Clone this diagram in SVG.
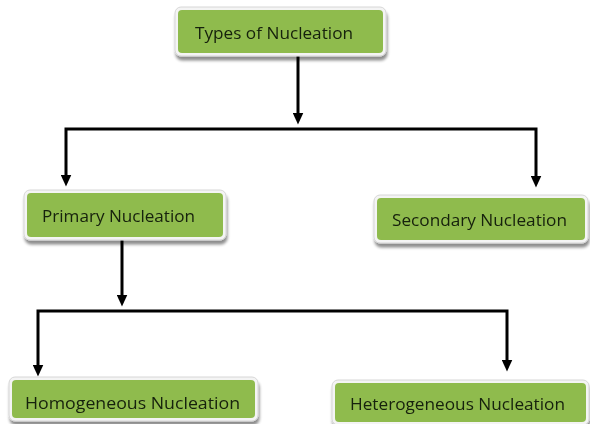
<svg xmlns="http://www.w3.org/2000/svg" width="590" height="424" viewBox="0 0 590 424">
  <defs>
    <filter id="shadow" x="-10%" y="-20%" width="120%" height="160%">
      <feGaussianBlur in="SourceAlpha" stdDeviation="1.8"/>
      <feOffset dx="1" dy="4" result="b"/>
      <feComponentTransfer><feFuncA type="linear" slope="0.45"/></feComponentTransfer>
      <feMerge><feMergeNode/><feMergeNode in="SourceGraphic"/></feMerge>
    </filter>
    <!-- arrowhead drawn along +x; its base sits on the line end, the tip 12px beyond -->
    <marker id="arrow" viewBox="0 0 12 11" refX="0.5" refY="5.5" markerWidth="12" markerHeight="11" markerUnits="userSpaceOnUse" orient="auto-start-reverse">
      <path d="M0,0 L12,5.5 L0,11 Z" fill="#000"/>
    </marker>
  </defs>
  <style>
    .frame { fill: #f4f4f4; stroke: #d6d6d6; stroke-width: 1; }
    .box { fill: #8fbb4e; }
    .label { font-family: "Open Sans", "Liberation Sans", sans-serif; font-size: 16.5px; fill: #16200c; dominant-baseline: central; }
    .link { fill: none; stroke: #000; stroke-width: 3; stroke-linejoin: miter; }
    .arrow-end { marker-end: url(#arrow); }
    .arrow-both { marker-start: url(#arrow); marker-end: url(#arrow); }
  </style>
  <rect width="590" height="424" fill="#fff"/>

  <g id="connectors">
    <path class="link arrow-end" d="M298,55 V113"/>
    <path class="link arrow-both" d="M66,175 V129 H536 V176"/>
    <path class="link arrow-end" d="M122,240 V295"/>
    <path class="link arrow-both" d="M38,365 V311 H507 V360"/>
  </g>

  <g id="types-of-nucleation" filter="url(#shadow)">
    <rect class="frame" x="175" y="7" width="211" height="49" rx="6"/>
    <rect class="box" x="178" y="10" width="205" height="43" rx="4"/>
    <text class="label" x="195" y="32" textLength="158" lengthAdjust="spacingAndGlyphs">Types of Nucleation</text>
  </g>

  <g id="primary-nucleation" filter="url(#shadow)">
    <rect class="frame" x="24" y="190" width="202" height="50" rx="6"/>
    <rect class="box" x="27" y="193" width="196" height="44" rx="4"/>
    <text class="label" x="42" y="215" textLength="153" lengthAdjust="spacingAndGlyphs">Primary Nucleation</text>
  </g>

  <g id="secondary-nucleation" filter="url(#shadow)">
    <rect class="frame" x="374" y="195" width="214" height="48" rx="6"/>
    <rect class="box" x="377" y="198" width="208" height="42" rx="4"/>
    <text class="label" x="392" y="219" textLength="175" lengthAdjust="spacingAndGlyphs">Secondary Nucleation</text>
  </g>

  <g id="homogeneous-nucleation" filter="url(#shadow)">
    <rect class="frame" x="9" y="377" width="249" height="44" rx="6"/>
    <rect class="box" x="12" y="380" width="243" height="38" rx="4"/>
    <text class="label" x="25" y="402" textLength="215" lengthAdjust="spacingAndGlyphs">Homogeneous Nucleation</text>
  </g>

  <g id="heterogeneous-nucleation" filter="url(#shadow)">
    <rect class="frame" x="332" y="380" width="257" height="45" rx="6"/>
    <rect class="box" x="335" y="383" width="251" height="39" rx="4"/>
    <text class="label" x="350" y="403" textLength="215" lengthAdjust="spacingAndGlyphs">Heterogeneous Nucleation</text>
  </g>
</svg>
